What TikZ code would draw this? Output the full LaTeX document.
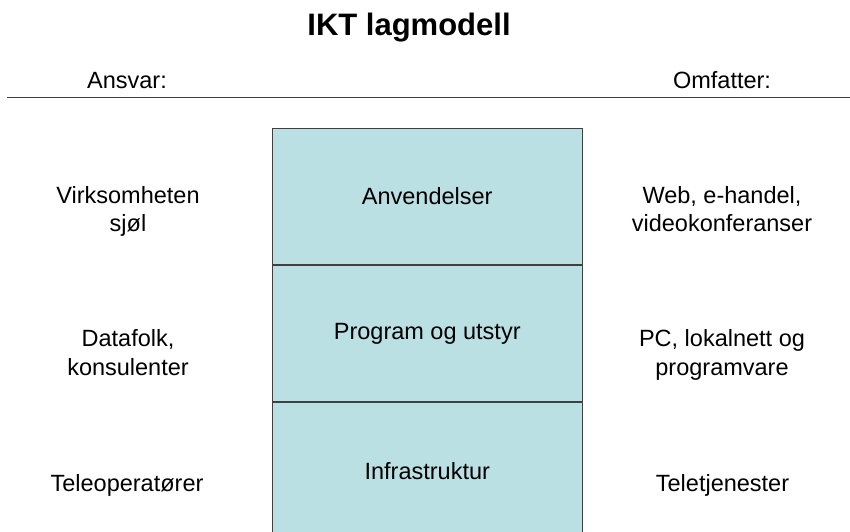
\documentclass[tikz,border=0pt]{standalone}
\usepackage{fontspec}
\setmainfont{Liberation Sans}
\usetikzlibrary{positioning}
\definecolor{layerfill}{RGB}{187,224,227}
\definecolor{rulegray}{RGB}{64,64,64}
\begin{document}
\begin{tikzpicture}[
  x=1pt, y=-1pt,
  layer/.style={rectangle, draw=rulegray, line width=0.9pt, fill=layerfill, minimum width=310.5pt, minimum height=136.5pt, inner sep=0pt, font=\fontsize{23.5}{28.5}\selectfont},
  sidetext/.style={anchor=base, align=center, inner sep=0pt, font=\fontsize{23.5}{28.5}\selectfont},
  node distance=0pt
]
\useasboundingbox (0,0) rectangle (850,531);

% Title and header
\node[anchor=base, inner sep=0pt, font=\fontsize{31}{37}\selectfont\bfseries] (title) at (409,35) {IKT lagmodell};
\node[sidetext] (ansvar) at (127,88) {Ansvar:};
\node[sidetext] (omfatter) at (722,88) {Omfatter:};
\coordinate (rulel) at (7,97.5);
\coordinate (ruler) at (850,97.5);
\draw[rulegray, line width=1.2pt] (rulel) -- (ruler);

% Layers
\node[layer, anchor=north] (anv) at (427.25,127.5) {Anvendelser};
\node[layer, below=of anv] (prog) {Program og utstyr};
\node[layer, below=of prog] (infra) {Infrastruktur};

% Ansvar (base = last line)
\node[sidetext] (virk) at (128,231.7) {Virksomheten\\sjøl};
\node[sidetext] (data) at (128,375) {Datafolk,\\konsulenter};
\node[sidetext] (tele) at (127,491.7) {Teleoperatører};

% Omfatter
\node[sidetext] (web) at (722,231.7) {Web, e-handel,\\videokonferanser};
\node[sidetext] (pc) at (722,375) {PC, lokalnett og\\programvare};
\node[sidetext] (teletj) at (722.5,491.7) {Teletjenester};
\end{tikzpicture}
\end{document}
